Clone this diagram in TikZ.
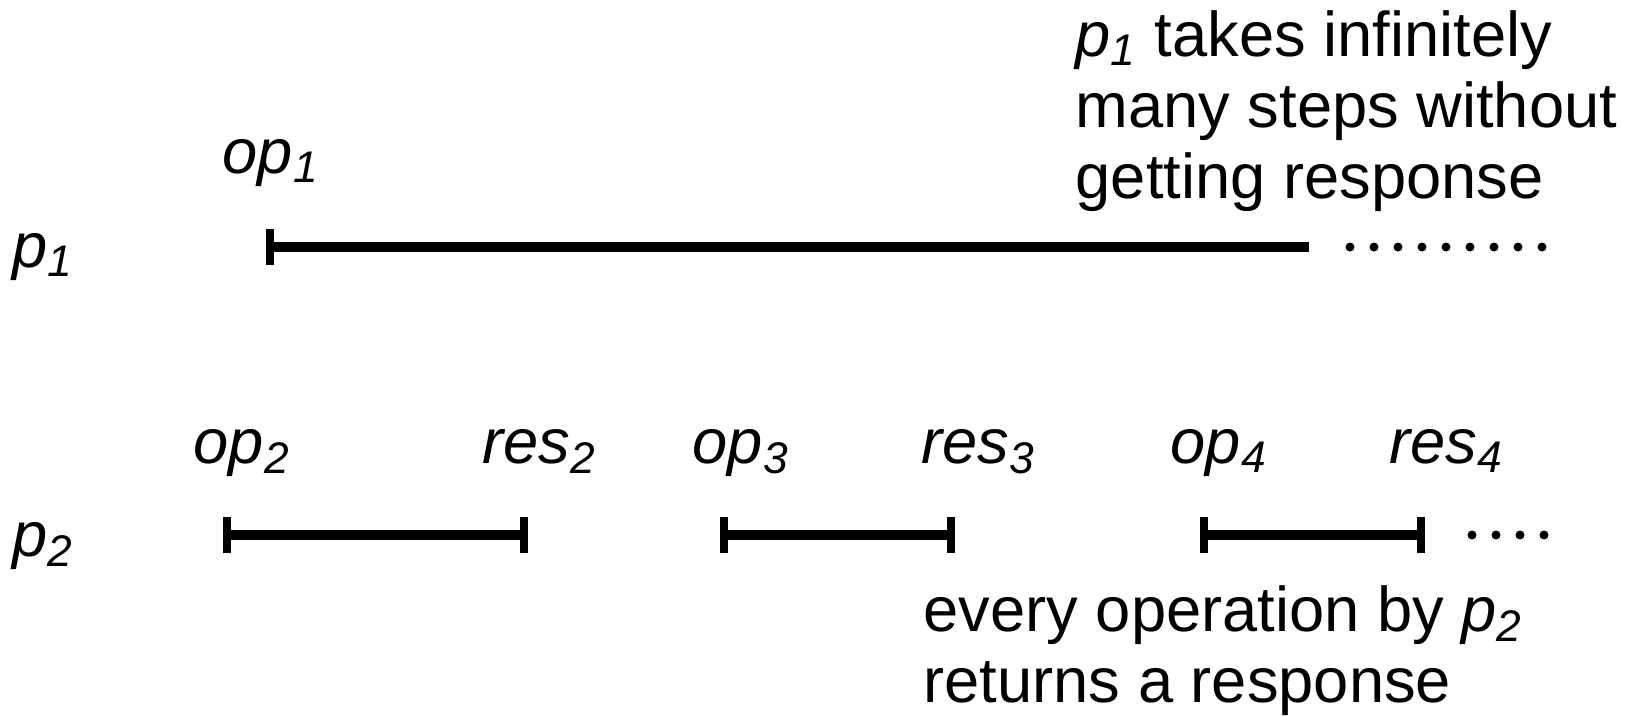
\documentclass[tikz,border=0pt]{standalone}
\usepackage{fontspec}
\setmainfont{Liberation Sans}
\usepackage{tikz}
\usetikzlibrary{arrows.meta}

\begin{document}
\begin{tikzpicture}[
  every node/.style={font=\fontsize{18}{20.2}\selectfont,inner sep=0pt},
  lbl/.style={anchor=base west,font=\fontsize{18}{20.2}\selectfont\itshape},
  note/.style={anchor=base west,align=left,font=\fontsize{18}{20.2}\selectfont},
  run/.style={line width=2.8pt},
  opr/.style={run,{Bar[width=3.6mm,line width=2.3pt]}-{Bar[width=3.6mm,line width=2.3pt]}}]
\useasboundingbox (0,0) rectangle (16.44,7.15);
% processes
\node[lbl] (p1) at (0.12,4.48) {p\textsubscript{1}};
\node[lbl] (p2) at (0.12,1.59) {p\textsubscript{2}};
% p1: one pending operation
\coordinate (inv1) at (2.66,4.68);
\coordinate (end1) at (13.09,4.68);
\node[lbl] (op1) at (2.22,5.42) {op\textsubscript{1}};
\draw[run,{Bar[width=3.6mm,line width=2.3pt]}-] (inv1) -- (end1);
\foreach \i in {0,...,8} \fill (13.50+0.24*\i,4.68) circle (0.045);
\node[note] (txt1) at (10.75,5.17) {\textit{p\textsubscript{1}} takes infinitely\\many steps without\\getting response};
% p2: completed operations
\foreach \n/\a/\b/\la/\lb in {2/2.23/5.28/1.93/4.82, 3/7.20/9.55/6.92/9.21, 4/12.00/14.25/11.70/13.89} {
  \coordinate (inv\n) at (\a,1.80);
  \coordinate (res\n) at (\b,1.80);
  \draw[opr] (inv\n) -- (res\n);
  \node[lbl] (op\n) at (\la,2.52) {op\textsubscript{\n}};
  \node[lbl] (rs\n) at (\lb,2.52) {res\textsubscript{\n}};
}
\foreach \i in {0,...,3} \fill (14.72+0.24*\i,1.80) circle (0.045);
\node[note] (txt2) at (9.23,0.13) {every operation by \textit{p\textsubscript{2}}\\returns a response};
\end{tikzpicture}
\end{document}
